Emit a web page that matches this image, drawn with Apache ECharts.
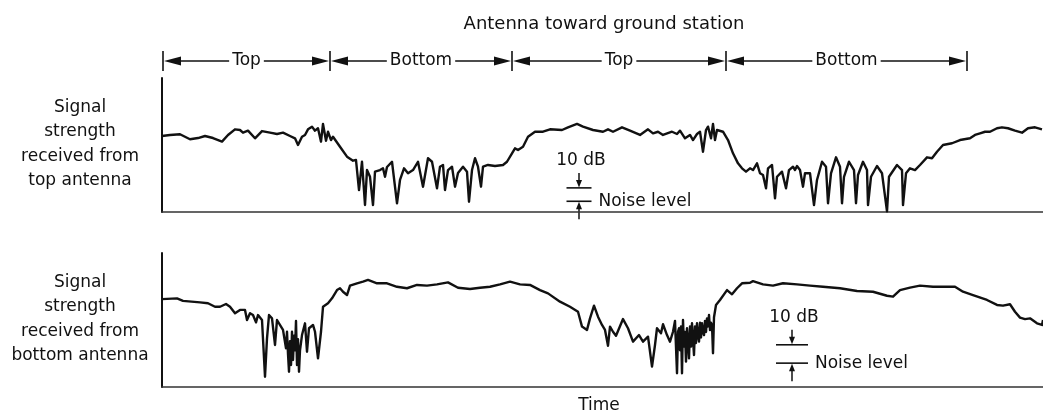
<!DOCTYPE html>
<html><head><meta charset="utf-8">
<script src="https://cdn.jsdelivr.net/npm/echarts@6/dist/echarts.min.js"></script>
<style>html,body{margin:0;padding:0;background:#fff}#c{width:1043px;height:417px}</style>
</head><body><div id="c"></div>
<script>
// time (arbitrary units) vs received signal (dB, relative)
const topTrace = [[0,56.7],[8,57.5],[18,58.0],[28,54.3],[36,55.2],[43,56.7],[51,55.2],[60,52.5],[66,57.5],[73,61.7],[78,61.2],[81,59.2],[86,60.7],[93,55.0],[100,60.4],[108,59.2],[115,58.2],[121,59.2],[128,56.7],[133,55.0],[136,50.0],[140,56.2],[143,57.5],[146,61.7],[150,63.7],[153,60.7],[156,62.5],[159,52.5],[161,65.7],[164,53.2],[166,59.9],[169,53.7],[171,56.2],[178,48.7],[185,41.3],[191,38.3],[194,38.8],[197,16.4],[200,37.5],[203,5.2],[205,31.3],[208,26.3],[211,5.2],[213,30.1],[218,31.3],[221,32.6],[223,26.3],[225,33.6],[230,37.5],[235,6.5],[238,23.9],[242,32.6],[246,28.9],[251,31.3],[256,37.5],[261,18.9],[266,40.1],[270,37.5],[275,17.7],[278,33.8],[281,35.1],[283,16.4],[286,31.3],[290,33.8],[293,18.9],[296,29.1],[301,33.8],[305,30.1],[307,7.7],[310,31.3],[313,40.1],[316,33.8],[319,18.9],[321,33.8],[326,35.1],[333,34.3],[341,35.1],[345,37.5],[350,43.8],[353,47.5],[356,46.3],[361,48.7],[366,56.2],[373,59.9],[381,59.9],[388,61.7],[400,61.2],[406,63.2],[415,65.7],[421,63.7],[431,61.2],[441,59.9],[446,61.7],[451,59.9],[460,63.2],[468,60.7],[478,57.5],[486,61.7],[491,58.7],[496,59.9],[501,57.5],[510,59.9],[515,58.2],[518,60.7],[523,55.0],[528,57.5],[531,53.7],[535,58.2],[538,59.9],[541,45.0],[544,61.2],[546,63.7],[549,55.0],[551,65.7],[553,53.7],[555,61.2],[561,59.9],[566,53.7],[571,43.8],[576,36.3],[580,32.6],[584,30.1],[588,32.6],[591,31.3],[595,36.3],[598,28.9],[601,27.6],[604,17.7],[606,32.6],[610,35.1],[613,10.2],[615,26.3],[620,30.1],[624,17.7],[627,31.3],[631,33.8],[633,31.3],[635,34.3],[638,31.3],[641,18.9],[643,28.9],[648,28.9],[652,5.2],[655,23.9],[660,37.5],[664,33.8],[666,6.5],[669,28.9],[674,40.8],[678,33.8],[680,6.5],[682,26.3],[687,37.5],[692,31.3],[694,6.5],[696,27.6],[701,37.5],[705,31.3],[706,5.2],[709,26.3],[715,34.3],[720,28.9],[725,0.5],[727,26.3],[735,35.1],[740,31.3],[741,5.2],[744,28.9],[748,32.6],[753,31.3],[758,35.1],[765,40.8],[770,40.1],[775,45.0],[781,50.0],[790,51.3],[798,53.7],[808,55.0],[813,57.5],[818,58.7],[823,59.9],[828,59.9],[835,62.5],[840,63.2],[846,62.5],[853,60.7],[860,59.2],[866,62.5],[873,63.2],[880,61.7]];

const bottomTrace = [[0,47.9],[15,48.3],[21,46.9],[38,46.1],[46,45.6],[53,43.7],[58,43.7],[64,45.2],[68,43.7],[73,40.2],[78,42.0],[83,42.0],[85,36.5],[88,40.2],[91,39.2],[94,35.2],[96,39.2],[100,36.5],[103,5.6],[105,26.5],[107,39.2],[110,37.4],[113,22.9],[115,36.5],[119,32.9],[121,31.1],[124,21.1],[125,30.1],[126,18],[127,8.3],[128,25],[129,12],[130,30.1],[131,14.7],[132,28],[133,20],[134,36.0],[135,12.0],[136,26],[137,8.3],[138,20],[140,28.3],[143,34.7],[145,19.2],[147,32.0],[151,33.8],[153,30.1],[156,15.6],[159,30.1],[161,43.7],[166,45.6],[170,48.3],[175,52.8],[178,53.8],[181,51.9],[185,50.1],[188,55.2],[195,56.5],[201,57.4],[206,58.3],[215,56.5],[225,56.5],[235,54.6],[245,53.8],[255,55.6],[265,55.2],[275,55.9],[286,57.0],[296,54.1],[308,53.4],[318,54.1],[328,54.6],[338,55.9],[348,57.4],[358,55.9],[368,55.6],[378,52.8],[386,51.0],[398,46.5],[408,43.7],[416,41.0],[420,32.9],[425,31.1],[428,37.4],[432,44.3],[436,38.3],[440,33.8],[443,31.1],[446,22.5],[448,32.9],[451,30.1],[454,27.9],[461,37.0],[466,32.0],[471,24.7],[477,28.3],[481,24.7],[486,27.4],[490,11.1],[493,22.9],[495,32.0],[499,29.3],[501,34.2],[505,28.3],[508,24.7],[511,30.1],[512,30],[513,36],[514,35.6],[515,7.5],[516,30],[517,32],[518,20],[519,33],[520,7.5],[521,36.5],[522,22],[523,30],[524,13.8],[525,32],[526,25],[527,15.6],[528,33],[529,22],[530,34.7],[531,26],[532,17.4],[533,33],[534,24],[535,34.7],[536,28],[537,24.7],[538,35],[539,27],[540,34.7],[541,30],[542,28.3],[543,36],[544,30],[545,37.4],[546,33],[547,39.2],[548,31],[549,35],[550,33.8],[551,18.4],[552,38],[554,44.7],[558,47.4],[565,52.8],[570,50.5],[575,53.8],[580,56.5],[588,56.8],[591,57.7],[601,55.9],[611,55.2],[621,56.5],[635,55.9],[648,55.2],[661,54.6],[678,53.8],[695,52.3],[711,51.9],[725,49.7],[731,49.2],[738,52.8],[748,54.1],[758,55.2],[771,54.6],[785,54.6],[793,54.6],[801,51.9],[811,50.1],[825,47.4],[835,44.7],[841,44.3],[848,45.1],[853,41.0],[858,37.8],[863,37.0],[868,37.4],[875,34.7],[880,33.8],[881,36.5]];

const phaseBounds = [1, 168, 350, 564, 805];
const phaseLabels = ['Top', 'Bottom', 'Top', 'Bottom'];
const headerTitle = 'Antenna toward ground station';
const panelLabels = ['Signal\nstrength\nreceived from\ntop antenna', 'Signal\nstrength\nreceived from\nbottom antenna'];
const noiseLevel = [8, 13];        // dB, per panel
const scaleStepDb = 10;            // dB
const scaleAtTime = [417, 630];    // where the 10 dB scale is drawn
const axisLabelX = 'Time';

const INK = '#111';
const FONT = 'DejaVu Sans';
const chart = echarts.init(document.getElementById('c'), null, {renderer: 'canvas'});

function xAx(i) {
  return {gridIndex: i, type: 'value', min: 0, max: 881,
    axisLine: {show: true, onZero: false, lineStyle: {color: '#333', width: 1.5}},
    axisTick: {show: false}, axisLabel: {show: false}, splitLine: {show: false}};
}
function yAx(i, max) {
  return {gridIndex: i, type: 'value', min: 0, max: max,
    axisLine: {show: true, lineStyle: {color: INK, width: 2}},
    axisTick: {show: false}, axisLabel: {show: false}, splitLine: {show: false}};
}
function trace(data, i) {
  return {type: 'line', data: data, xAxisIndex: i, yAxisIndex: i, showSymbol: false, symbol: 'none',
    clip: false, lineStyle: {color: INK, width: 2.4, join: 'round'}, silent: true};
}

chart.setOption({
  animation: false,
  backgroundColor: '#fff',
  grid: [{left: 162, top: 78, width: 881, height: 134}, {left: 162, top: 253, width: 881, height: 134}],
  xAxis: [xAx(0), xAx(1)],
  yAxis: [yAx(0, 100), yAx(1, 73)],
  series: [trace(topTrace, 0), trace(bottomTrace, 1)]
});

function P(panel, t, v) { return chart.convertToPixel({gridIndex: panel}, [t, v]); }
const g = [];
function line(x1, y1, x2, y2, w) { g.push({type: 'line', shape: {x1, y1, x2, y2}, style: {stroke: INK, lineWidth: w || 1.5}, silent: true}); }
function poly(pts) { g.push({type: 'polygon', shape: {points: pts}, style: {fill: INK}, silent: true}); }
function text(s, x, y, size, align, extra) {
  g.push({type: 'text', silent: true, z: 10, style: Object.assign({text: s, x, y, font: size + 'px "' + FONT + '"', fill: INK,
    align: align || 'center', verticalAlign: 'middle', textAlign: align || 'center', textVerticalAlign: 'middle'}, extra || {})});
}

// header: phases of the rotation
const gridTopY = P(0, 0, 100)[1];
const rowY = gridTopY - 17;
text(headerTitle, P(0, 442, 0)[0], gridTopY - 54, 18);
phaseBounds.forEach(b => { const x = P(0, b, 0)[0]; line(x, rowY - 10, x, rowY + 10, 1.6); });
for (let i = 0; i < phaseLabels.length; i++) {
  const xa = P(0, phaseBounds[i], 0)[0] + 1, xb = P(0, phaseBounds[i + 1], 0)[0] - 1;
  line(xa + 8, rowY, xb - 8, rowY, 1.6);
  poly([[xa, rowY], [xa + 17, rowY - 4.5], [xa + 17, rowY + 4.5]]);
  poly([[xb, rowY], [xb - 17, rowY - 4.5], [xb - 17, rowY + 4.5]]);
  text(phaseLabels[i], (xa + xb) / 2, rowY, 17, 'center', {backgroundColor: '#fff', padding: [0, 3]});
}

// panel labels
[0, 1].forEach(p => {
  const mid = (P(p, 0, 0)[1] + P(p, 0, p === 0 ? 100 : 73)[1]) / 2;
  text(panelLabels[p], 80, mid - 1, 17, 'center', {lineHeight: 24.5});
});

// 10 dB scale brackets
const halfW = [12.5, 16];
[0, 1].forEach(p => {
  const c = scaleAtTime[p];
  const xc = P(p, c, 0)[0], xl = P(p, c - halfW[p], 0)[0], xr = P(p, c + halfW[p], 0)[0];
  const yLow = P(p, c, noiseLevel[p])[1], yHigh = P(p, c, noiseLevel[p] + scaleStepDb)[1];
  line(xl, yHigh, xr, yHigh, 1.6);
  line(xl, yLow, xr, yLow, 1.6);
  line(xc, yHigh - 15, xc, yHigh - 5, 1.5);
  poly([[xc, yHigh - 0.5], [xc - 3, yHigh - 8], [xc + 3, yHigh - 8]]);
  line(xc, yLow + 5, xc, yLow + 18, 1.5);
  poly([[xc, yLow + 0.5], [xc - 3, yLow + 8], [xc + 3, yLow + 8]]);
  text(scaleStepDb + ' dB', xc + 2, yHigh - 27, 17);
  text('Noise level', xr + 7, yLow + 0.5, 17, 'left');
});

// x-axis title
text(axisLabelX, P(1, 437, 0)[0], P(1, 0, 0)[1] + 19, 17);

chart.setOption({graphic: {elements: g}});
</script></body></html>
